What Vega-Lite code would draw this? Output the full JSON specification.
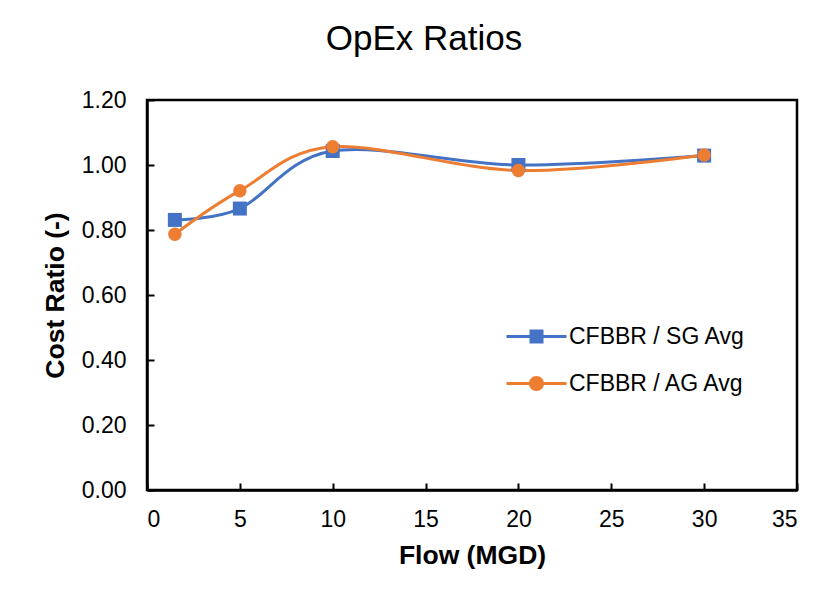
{
  "$schema": "https://vega.github.io/schema/vega-lite/v6.json",
  "width": 650,
  "height": 390,
  "autosize": {"type": "none"},
  "padding": {"left": 147, "top": 100, "right": 31, "bottom": 115},
  "background": "white",
  "title": {
    "text": "OpEx Ratios",
    "font": "Liberation Sans",
    "fontSize": 35,
    "fontWeight": "normal",
    "color": "#000000",
    "anchor": "middle",
    "frame": "group",
    "dx": -48,
    "baseline": "alphabetic",
    "offset": 4
  },
  "config": {
    "view": {"stroke": "#000000", "strokeWidth": 2.5},
    "axis": {
      "labelFont": "Liberation Sans",
      "labelFontSize": 23,
      "labelColor": "#000000",
      "titleFont": "Liberation Sans",
      "titleFontSize": 26.5,
      "titleFontWeight": "bold",
      "titleColor": "#000000",
      "domainColor": "#000000",
      "domainWidth": 2.5,
      "tickColor": "#000000",
      "tickWidth": 2,
      "grid": false
    }
  },
  "data": {
    "values": [
      {"series": "CFBBR / SG Avg", "flow": 1.5, "ratio": 0.831},
      {"series": "CFBBR / SG Avg", "flow": 5, "ratio": 0.866},
      {"series": "CFBBR / SG Avg", "flow": 10, "ratio": 1.043},
      {"series": "CFBBR / SG Avg", "flow": 20, "ratio": 1.0},
      {"series": "CFBBR / SG Avg", "flow": 30, "ratio": 1.029},
      {"series": "CFBBR / AG Avg", "flow": 1.5, "ratio": 0.787},
      {"series": "CFBBR / AG Avg", "flow": 5, "ratio": 0.921},
      {"series": "CFBBR / AG Avg", "flow": 10, "ratio": 1.056},
      {"series": "CFBBR / AG Avg", "flow": 20, "ratio": 0.983},
      {"series": "CFBBR / AG Avg", "flow": 30, "ratio": 1.031}
    ]
  },
  "encoding": {
    "x": {
      "field": "flow",
      "type": "quantitative",
      "title": "Flow (MGD)",
      "scale": {"domain": [0, 35], "nice": false},
      "axis": {"values": [0, 5, 10, 15, 20, 25, 30, 35], "format": "d", "tickSize": -7, "labelPadding": 25, "titlePadding": 11}
    },
    "y": {
      "field": "ratio",
      "type": "quantitative",
      "title": "Cost Ratio (-)",
      "scale": {"domain": [0, 1.2], "nice": false, "zero": false},
      "axis": {"values": [0, 0.2, 0.4, 0.6, 0.8, 1.0, 1.2], "format": ".2f", "tickSize": -7, "labelPadding": 28, "titlePadding": 12}
    }
  },
  "layer": [
    {
      "mark": {"type": "line", "interpolate": "cardinal", "strokeWidth": 3},
      "encoding": {
        "color": {
          "field": "series",
          "type": "nominal",
          "sort": ["CFBBR / SG Avg", "CFBBR / AG Avg"],
          "scale": {"domain": ["CFBBR / SG Avg", "CFBBR / AG Avg"], "range": ["#4472C4", "#ED7D31"]},
          "legend": {
            "title": null,
            "orient": "none",
            "legendX": 378,
            "legendY": 225,
            "padding": 0,
            "labelFont": "Liberation Sans",
            "labelFontSize": 23,
            "labelColor": "#000000",
            "labelLimit": 400,
            "labelOffset": 21,
            "rowPadding": 23,
            "symbolSize": 400,
            "symbolStrokeWidth": 0,
            "symbolType": "M-3,-0.15H3V0.15H-3ZM-0.7,-0.7H0.7V0.7H-0.7Z",
            "encoding": {
              "symbols": {
                "shape": {"value": {"expr": "datum.value === 'CFBBR / SG Avg' ? 'M-3,-0.15H3V0.15H-3ZM-0.7,-0.7H0.7V0.7H-0.7Z' : 'M-3,-0.15H3V0.15H-3ZM0.75,0A0.75,0.75,0,1,1,-0.75,0A0.75,0.75,0,1,1,0.75,0Z'"}},
                "fill": {"value": {"expr": "datum.value === 'CFBBR / SG Avg' ? '#4472C4' : '#ED7D31'"}},
                "strokeWidth": {"value": 0},
                "opacity": {"value": 1},
                "fillOpacity": {"value": 1}
              }
            }
          }
        }
      }
    },
    {
      "transform": [{"filter": "datum.series === 'CFBBR / SG Avg'"}],
      "mark": {"type": "point", "filled": true, "opacity": 1, "shape": "square", "size": 196},
      "encoding": {
        "color": {"field": "series", "type": "nominal", "legend": null}
      }
    },
    {
      "transform": [{"filter": "datum.series === 'CFBBR / AG Avg'"}],
      "mark": {"type": "point", "filled": true, "opacity": 1, "shape": "circle", "size": 180},
      "encoding": {
        "color": {"field": "series", "type": "nominal", "legend": null}
      }
    }
  ]
}
